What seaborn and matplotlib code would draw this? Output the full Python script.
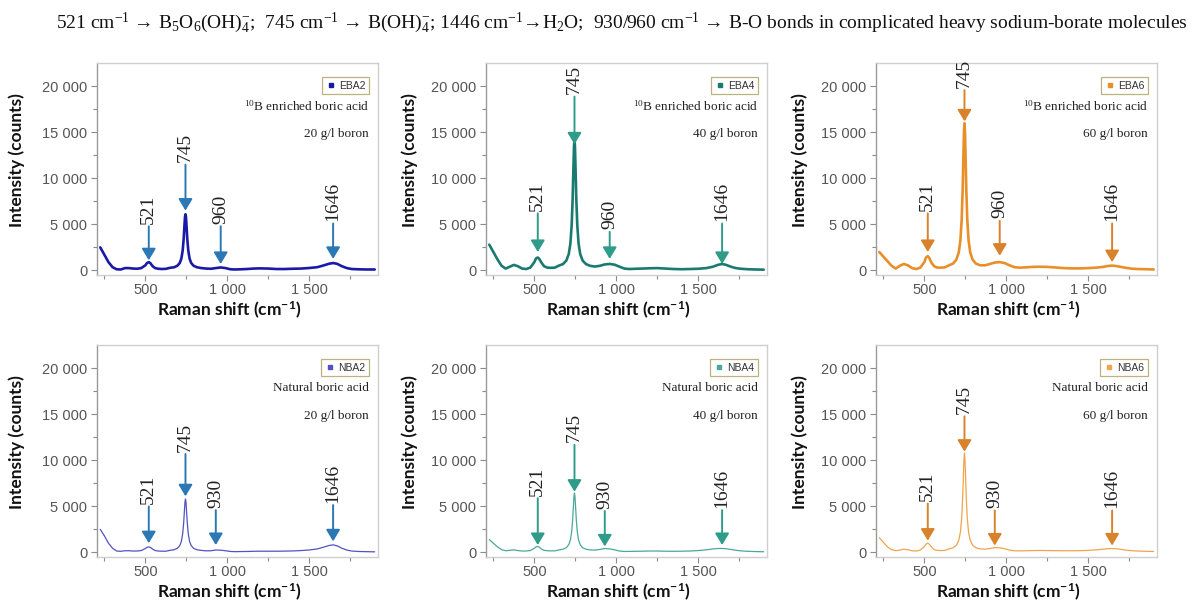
import matplotlib
matplotlib.use("Agg")
import matplotlib.pyplot as plt
import seaborn as sns
import numpy as np
import pandas as pd
from matplotlib.lines import Line2D
from matplotlib.ticker import FixedLocator

# ---------------- data ----------------
raman_shift = [225, 250, 275, 300, 325, 350, 375, 400, 425, 450, 475, 500, 510, 521, 530, 545, 560, 580, 600,
               625, 650, 675, 695, 710, 720, 728, 734, 738, 742, 745, 748, 752, 756, 762, 770, 780, 795, 815,
               840, 870, 900, 930, 960, 990, 1020, 1050, 1080, 1120, 1160, 1200, 1250, 1300, 1350, 1400, 1450,
               1500, 1550, 1590, 1620, 1646, 1670, 1700, 1730, 1760, 1800, 1850, 1900]

eba2 = [2500, 1700, 900, 350, 120, 100, 250, 250, 200, 180, 250, 550, 800, 900, 800, 450, 250, 180, 150,
        170, 280, 340, 500, 800, 1290, 2170, 3430, 4650, 5810, 6100, 5810, 4650, 3430, 2170, 1290, 800, 500, 340,
        260, 200, 180, 250, 320, 250, 120, 100, 120, 150, 200, 220, 200, 150, 150, 180, 200,
        260, 350, 550, 720, 800, 720, 450, 250, 150, 120, 100, 100]

eba4 = [2800, 2000, 1200, 500, 200, 400, 600, 450, 200, 150, 300, 900, 1300, 1400, 1250, 800, 450, 300, 280,
        300, 520, 690, 1060, 1770, 2920, 4960, 7900, 10740, 13460, 14300, 13460, 10740, 7900, 4960, 2920, 1770, 1060, 690,
        500, 420, 500, 650, 700, 620, 400, 200, 150, 180, 200, 230, 250, 200, 150, 130, 150,
        180, 250, 400, 600, 700, 600, 400, 250, 180, 130, 100, 80]

eba6 = [2000, 1500, 1000, 500, 200, 500, 700, 550, 250, 150, 300, 900, 1400, 1550, 1350, 800, 450, 300, 300,
        330, 550, 740, 1150, 1960, 3250, 5560, 8880, 12090, 15150, 16000, 15150, 12090, 8880, 5560, 3250, 1960, 1150, 740,
        560, 550, 700, 850, 900, 800, 550, 350, 300, 330, 380, 400, 380, 320, 250, 220, 220,
        250, 300, 380, 480, 520, 480, 380, 280, 200, 150, 130, 100]

nba2 = [2500, 1800, 1000, 450, 150, 120, 180, 180, 150, 150, 200, 420, 550, 600, 550, 350, 200, 150, 130,
        130, 220, 290, 440, 730, 1200, 2030, 3230, 4380, 5490, 5800, 5490, 4380, 3230, 2030, 1200, 730, 440, 290,
        220, 170, 180, 260, 240, 180, 100, 80, 90, 100, 120, 130, 130, 130, 140, 160, 200,
        260, 380, 580, 750, 820, 720, 450, 250, 150, 100, 80, 60]

nba4 = [1400, 1000, 600, 300, 180, 220, 280, 200, 150, 150, 200, 450, 600, 650, 580, 350, 220, 180, 170,
        170, 270, 350, 510, 830, 1350, 2270, 3590, 4870, 6090, 6450, 6090, 4870, 3590, 2270, 1350, 830, 510, 350,
        270, 250, 320, 420, 380, 280, 150, 100, 110, 120, 130, 150, 150, 130, 120, 130, 150,
        200, 280, 380, 420, 430, 400, 320, 230, 170, 120, 90, 70]

nba6 = [1600, 1100, 600, 300, 180, 250, 350, 280, 180, 150, 250, 650, 900, 1000, 900, 550, 300, 220, 200,
        210, 370, 500, 770, 1310, 2180, 3730, 5960, 8110, 10160, 10800, 10160, 8110, 5960, 3730, 2180, 1310, 770, 500,
        380, 350, 420, 520, 500, 400, 250, 180, 170, 180, 200, 210, 200, 190, 180, 180, 190,
        220, 280, 350, 400, 420, 400, 330, 250, 190, 150, 120, 100]

sample_names = ["EBA2", "EBA4", "EBA6", "NBA2", "NBA4", "NBA6"]
acid_labels = [r"$^{10}$B enriched boric acid"] * 3 + ["Natural boric acid"] * 3
conc_labels = ["20 g/l boron", "40 g/l boron", "60 g/l boron"] * 2

peak_labels_eba = ["521", "745", "960", "1646"]
peak_labels_nba = ["521", "745", "930", "1646"]
peak_pos_eba = [521, 745, 960, 1646]
peak_pos_nba = [521, 745, 930, 1646]

arrow_tail = {
    "EBA2": [4800, 11500, 4800, 5100],
    "EBA4": [6200, 18900, 4200, 5100],
    "EBA6": [6200, 19600, 5400, 5100],
    "NBA2": [5000, 10700, 4600, 5150],
    "NBA4": [5900, 11700, 4500, 4600],
    "NBA6": [5300, 14800, 4550, 4550],
}
arrow_tip = {
    "EBA2": [1100, 6500, 700, 1250],
    "EBA4": [2000, 13700, 1250, 700],
    "EBA6": [2000, 16200, 1600, 900],
    "NBA2": [1000, 6100, 800, 1200],
    "NBA4": [800, 6600, 650, 800],
    "NBA6": [1280, 10950, 750, 750],
}

ytick_vals = [0, 5000, 10000, 15000, 20000]
ytick_labels = ["0", "5 000", "10 000", "15 000", "20 000"]
ytick_minor = [2500, 7500, 12500, 17500]
xtick_vals = [500, 1000, 1500]
xtick_labels = ["500", "1 000", "1 500"]
xtick_minor = [250, 750, 1250, 1750]

title_text = (r"521 cm$^{-1}$ → B$_5$O$_6$(OH)$_4^{-}$;  745 cm$^{-1}$ → B(OH)$_4^{-}$; "
              r"1446 cm$^{-1}$→H$_2$O;  930/960 cm$^{-1}$ → B-O bonds in complicated heavy sodium-borate molecules")

# ---------------- style ----------------
sns.set_style("ticks")
plt.rcParams["font.family"] = ["Liberation Sans", "DejaVu Sans"]
plt.rcParams["mathtext.fontset"] = "custom"
plt.rcParams["mathtext.rm"] = "Liberation Serif"
plt.rcParams["mathtext.it"] = "Liberation Serif:italic"
plt.rcParams["mathtext.bf"] = "Lato:bold"

SERIF = ["Liberation Serif", "DejaVu Serif"]
BOLD_SANS = ["Lato", "DejaVu Sans"]

line_colors = ["#1a1aa6", "#1b7a70", "#e98f2a", "#5252c2", "#4aa898", "#f0a54c"]
line_widths = [1.9, 1.9, 1.9, 0.9, 0.9, 0.9]
arrow_colors = ["#2b78b4", "#2f9c8a", "#d8832c", "#2b78b4", "#2f9c8a", "#d8832c"]

W, H = 1200, 609
fig = plt.figure(figsize=(W / 100, H / 100), dpi=100)

col_left = [97, 486, 876]
row_top = [63, 345]
ax_w, ax_h = 281, 212
ylabel_x = [-0.256, -0.242, -0.242]

all_series = [eba2, eba4, eba6, nba2, nba4, nba6]

for i, name in enumerate(sample_names):
    r, c = divmod(i, 3)
    left = col_left[c] / W
    bottom = 1 - (row_top[r] + ax_h) / H
    ax = fig.add_axes([left, bottom, ax_w / W, ax_h / H])
    df = pd.DataFrame({"shift": raman_shift, "counts": all_series[i]})
    sns.lineplot(data=df, x="shift", y="counts", ax=ax, color=line_colors[i],
                 linewidth=line_widths[i], estimator=None)
    ax.set_xlim(205, 1920)
    ax.set_ylim(-500, 22550)

    ax.set_xticks(xtick_vals)
    ax.set_xticklabels(xtick_labels)
    ax.xaxis.set_minor_locator(FixedLocator(xtick_minor))
    ax.set_yticks(ytick_vals)
    ax.set_yticklabels(ytick_labels)
    ax.yaxis.set_minor_locator(FixedLocator(ytick_minor))
    ax.tick_params(which="major", direction="out", length=4, width=0.8, color="#8a8a8a",
                   labelcolor="#555555", labelsize=10.5)
    ax.tick_params(axis="x", which="major", pad=2)
    ax.tick_params(axis="y", which="major", pad=3)
    ax.tick_params(which="minor", direction="out", length=3, width=0.8, color="#8a8a8a")

    for side in ["top", "right", "bottom"]:
        ax.spines[side].set_visible(True)
        ax.spines[side].set_color("#cfcfcf")
        ax.spines[side].set_linewidth(1.0)
    ax.spines["left"].set_color("#9a9a9a")
    ax.spines["left"].set_linewidth(1.0)

    ax.set_ylabel("Intensity (counts)", family=BOLD_SANS, fontweight="bold", fontsize=12.5, color="#111111")
    ax.yaxis.set_label_coords(ylabel_x[c], 0.54)
    ax.set_xlabel(r"Raman shift (cm$^{\mathbf{-1}}$)", family=BOLD_SANS, fontweight="bold",
                  fontsize=12.5, color="#111111")
    ax.xaxis.set_label_coords(0.47, -0.118)

    # legend
    handle = Line2D([], [], marker="s", linestyle="none", color=line_colors[i], markersize=3.5, label=name)
    leg = ax.legend(handles=[handle], loc="upper right", bbox_to_anchor=(0.968, 0.934), borderaxespad=0,
                    frameon=True, fancybox=False, handletextpad=0.3, handlelength=1.0,
                    borderpad=0.35, prop={"family": ["Liberation Sans"], "size": 7.5})
    leg.get_frame().set_edgecolor("#a9a060")
    leg.get_frame().set_linewidth(0.9)
    for t in leg.get_texts():
        t.set_color("#333333")

    ax.text(0.968, 0.795, acid_labels[i], transform=ax.transAxes, ha="right", va="center",
            family=SERIF, fontsize=9.5, color="#222222")
    ax.text(0.968, 0.665, conc_labels[i], transform=ax.transAxes, ha="right", va="center",
            family=SERIF, fontsize=9.5, color="#222222")

    labs = peak_labels_eba if r == 0 else peak_labels_nba
    poss = peak_pos_eba if r == 0 else peak_pos_nba
    for lab, px, tail, tip in zip(labs, poss, arrow_tail[name], arrow_tip[name]):
        ax.annotate("", xy=(px, tip), xytext=(px, tail),
                    arrowprops=dict(arrowstyle="-|>,head_length=0.5,head_width=0.3",
                                    color=arrow_colors[i], lw=1.4, shrinkA=0, shrinkB=0,
                                    mutation_scale=14))
        ax.text(px, tail + 250, lab, rotation=90, ha="center", va="bottom",
                family=SERIF, fontsize=14, color="#222222")

fig.text(0.518, 0.962, title_text, ha="center", va="center", family=SERIF, fontsize=14, color="#111111")

fig.savefig("out.png", dpi=100, facecolor="white")
